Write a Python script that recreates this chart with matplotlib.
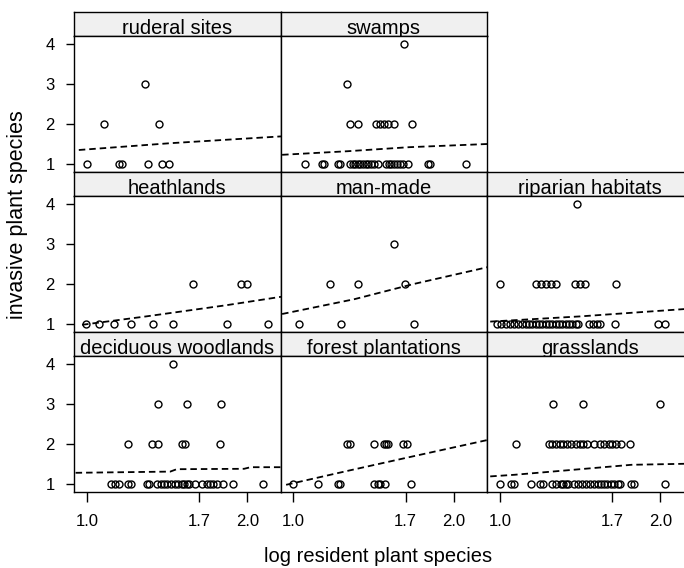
"""Lattice-style panel plot: invasive vs. log resident plant species by habitat."""

import matplotlib

matplotlib.use("Agg")
import matplotlib.pyplot as plt

plt.rcParams["font.family"] = ["Liberation Sans", "DejaVu Sans"]

W, H = 684, 568

# x values (log resident species) at each invasive-species count, per habitat
ruderal_x1 = [1.00, 1.20, 1.22, 1.38, 1.47, 1.51]
ruderal_x2 = [1.11, 1.45]
ruderal_x3 = [1.36]
ruderal_fit_x = [0.95, 1.52, 2.21]
ruderal_fit_y = [1.35, 1.52, 1.69]

swamps_x1 = [1.075, 1.177, 1.19, 1.277, 1.289, 1.356, 1.370, 1.385, 1.401, 1.418,
             1.434, 1.451, 1.468, 1.484, 1.505, 1.526, 1.578, 1.595, 1.611, 1.628,
             1.645, 1.663, 1.682, 1.713, 1.838, 1.850, 2.077]
swamps_x2 = [1.356, 1.405, 1.516, 1.542, 1.567, 1.592, 1.630, 1.740]
swamps_x3 = [1.335]
swamps_x4 = [1.692]
swamps_fit_x = [0.93, 1.34, 1.72, 2.21]
swamps_fit_y = [1.23, 1.32, 1.42, 1.50]

heath_x1 = [0.996, 1.078, 1.172, 1.276, 1.411, 1.539, 1.875, 2.127]
heath_x2 = [1.660, 1.961, 1.996]
heath_fit_x = [0.97, 1.37, 1.87, 2.21]
heath_fit_y = [0.98, 1.19, 1.47, 1.68]

manmade_x1 = [1.037, 1.297, 1.754]
manmade_x2 = [1.231, 1.401, 1.696]
manmade_x3 = [1.626]
manmade_fit_x = [0.93, 1.38, 1.75, 2.21]
manmade_fit_y = [1.25, 1.62, 2.00, 2.42]

riparian_x1 = [0.983, 1.008, 1.036, 1.063, 1.088, 1.113, 1.140, 1.161, 1.182, 1.202,
               1.223, 1.244, 1.265, 1.286, 1.306, 1.327, 1.348, 1.369, 1.390, 1.411,
               1.432, 1.452, 1.473, 1.488, 1.556, 1.581, 1.604, 1.625, 1.719, 1.984,
               2.031]
riparian_x2 = [0.998, 1.223, 1.254, 1.286, 1.317, 1.348, 1.469, 1.500, 1.531, 1.721]
riparian_x4 = [1.479]
riparian_fit_x = [0.94, 1.50, 2.21]
riparian_fit_y = [1.06, 1.19, 1.39]

decid_x1 = [1.149, 1.176, 1.203, 1.259, 1.274, 1.373, 1.388, 1.440, 1.461, 1.481,
            1.502, 1.523, 1.550, 1.571, 1.591, 1.606, 1.622, 1.639, 1.674, 1.716,
            1.747, 1.768, 1.788, 1.809, 1.847, 1.909, 2.096]
decid_x2 = [1.255, 1.405, 1.446, 1.591, 1.612, 1.830]
decid_x3 = [1.446, 1.622, 1.836]
decid_x4 = [1.539]
decid_fit_x = [0.93, 1.52, 1.56, 1.98, 2.02, 2.21]
decid_fit_y = [1.28, 1.31, 1.37, 1.38, 1.42, 1.42]

forest_x1 = [1.000, 1.152, 1.277, 1.293, 1.505, 1.526, 1.543, 1.572, 1.734]
forest_x2 = [1.333, 1.353, 1.505, 1.563, 1.578, 1.588, 1.682, 1.709]
forest_fit_x = [0.955, 1.34, 1.71, 2.21]
forest_fit_y = [0.98, 1.33, 1.66, 2.10]

grass_x1 = [0.998, 1.071, 1.088, 1.196, 1.250, 1.267, 1.327, 1.348, 1.379, 1.396,
            1.413, 1.425, 1.463, 1.488, 1.511, 1.536, 1.561, 1.584, 1.609, 1.629,
            1.650, 1.671, 1.692, 1.713, 1.734, 1.750, 1.817, 1.838, 2.029]
grass_x2 = [1.098, 1.306, 1.327, 1.348, 1.373, 1.396, 1.421, 1.446, 1.473, 1.500,
            1.521, 1.542, 1.588, 1.623, 1.650, 1.682, 1.702, 1.723, 1.754, 1.811]
grass_x3 = [1.333, 1.521, 1.998]
grass_fit_x = [0.94, 1.09, 1.50, 1.82, 2.21]
grass_fit_y = [1.19, 1.23, 1.37, 1.48, 1.51]

x_ticks = [1.0, 1.7, 2.0]
x_tick_labels = ["1.0", "1.7", "2.0"]
y_ticks = [1, 2, 3, 4]

# (title, row, col, {count: xs}, fit_x, fit_y)
panels = [
    ("ruderal sites", 0, 0, {1: ruderal_x1, 2: ruderal_x2, 3: ruderal_x3}, ruderal_fit_x, ruderal_fit_y),
    ("swamps", 0, 1, {1: swamps_x1, 2: swamps_x2, 3: swamps_x3, 4: swamps_x4}, swamps_fit_x, swamps_fit_y),
    ("heathlands", 1, 0, {1: heath_x1, 2: heath_x2}, heath_fit_x, heath_fit_y),
    ("man-made", 1, 1, {1: manmade_x1, 2: manmade_x2, 3: manmade_x3}, manmade_fit_x, manmade_fit_y),
    ("riparian habitats", 1, 2, {1: riparian_x1, 2: riparian_x2, 4: riparian_x4}, riparian_fit_x, riparian_fit_y),
    ("deciduous woodlands", 2, 0, {1: decid_x1, 2: decid_x2, 3: decid_x3, 4: decid_x4}, decid_fit_x, decid_fit_y),
    ("forest plantations", 2, 1, {1: forest_x1, 2: forest_x2}, forest_fit_x, forest_fit_y),
    ("grasslands", 2, 2, {1: grass_x1, 2: grass_x2, 3: grass_x3}, grass_fit_x, grass_fit_y),
]

fig = plt.figure(figsize=(W / 100, H / 100), dpi=100)


def px_axes(left, top, width, height):
    return fig.add_axes([left / W, 1 - (top + height) / H, width / W, height / H])


COL_W, STRIP_H, PLOT_H, ROW_H = 206.5, 24, 136, 160
LEFT, TOP = 74, 12

for title, row, col, levels, fit_x, fit_y in panels:
    left = LEFT + COL_W * col
    top = TOP + ROW_H * row

    strip = px_axes(left, top, COL_W, STRIP_H)
    strip.set_facecolor("#f0f0f0")
    strip.set_xticks([])
    strip.set_yticks([])
    strip.text(0.5, 0.1, title, ha="center", va="baseline", fontsize=14.5,
               transform=strip.transAxes)

    ax = px_axes(left, top + STRIP_H, COL_W, PLOT_H)
    for count, xs in levels.items():
        ax.plot(xs, [count] * len(xs), linestyle="none", marker="o", markersize=5,
                markerfacecolor="none", markeredgecolor="black", markeredgewidth=1.0)
    ax.plot(fit_x, fit_y, color="black", lw=1.3, linestyle=(0, (3.6, 2.2)))
    ax.set_xlim(0.92, 2.207)
    ax.set_ylim(0.8, 4.2)

    for a in (strip, ax):
        for sp in a.spines.values():
            sp.set_linewidth(1.0)

    if col == 0:
        ax.set_yticks(y_ticks)
        ax.tick_params(axis="y", direction="out", length=6, width=1, pad=8, labelsize=12)
    else:
        ax.set_yticks([])
    if row == 2:
        ax.set_xticks(x_ticks)
        ax.set_xticklabels(x_tick_labels)
        ax.tick_params(axis="x", direction="out", length=7, width=1, pad=9, labelsize=12)
    else:
        ax.set_xticks([])

fig.text(378 / W, 1 - 557 / H, "log resident plant species", ha="center", va="center", fontsize=14.5)
fig.text(18 / W, 1 - 215 / H, "invasive plant species", ha="center", va="center",
         rotation=90, fontsize=15.5)

fig.savefig("out.png", dpi=100)
